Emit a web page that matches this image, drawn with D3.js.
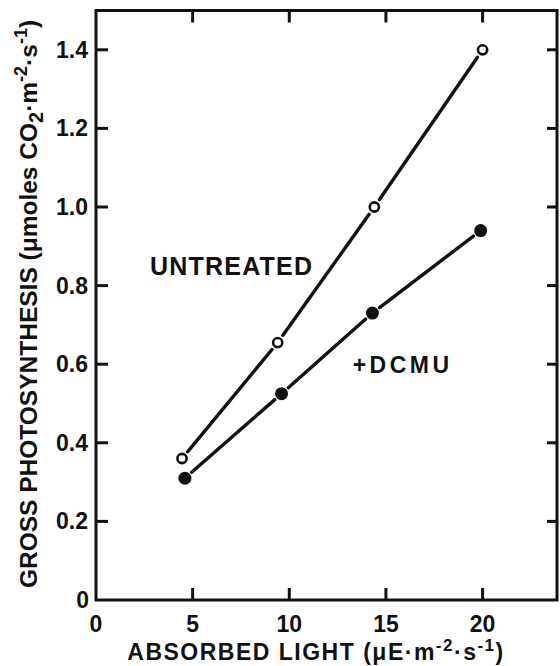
<!DOCTYPE html>
<html>
<head>
<meta charset="utf-8">
<script src="https://cdn.jsdelivr.net/npm/d3@7"></script>
<style>
  body { margin: 0; background: #fff; }
  svg text { font-family: "Liberation Sans", Arial, sans-serif; font-weight: bold; fill: #111; }
</style>
</head>
<body>
<svg id="chart" width="560" height="666"></svg>
<script>
// values
var lightUntreated = [4.45, 9.4, 14.4, 20.0];
var gpUntreated = [0.36, 0.655, 1.0, 1.40];
var lightDcmu = [4.6, 9.6, 14.3, 19.9];
var gpDcmu = [0.31, 0.525, 0.73, 0.94];

var xTicks = [0, 5, 10, 15, 20];
var yTicks = [0, 0.2, 0.4, 0.6, 0.8, 1.0, 1.2, 1.4];
var yTickLabels = ["0", "0.2", "0.4", "0.6", "0.8", "1.0", "1.2", "1.4"];

var untreated = lightUntreated.map(function(d, i) { return { x: d, y: gpUntreated[i] }; });
var dcmu = lightDcmu.map(function(d, i) { return { x: d, y: gpDcmu[i] }; });

var svg = d3.select("#chart");

var x = d3.scaleLinear().domain([0, 23.85]).range([96, 557]);
var y = d3.scaleLinear().domain([0, 1.5]).range([600, 10.5]);

// frame
svg.append("rect")
    .attr("x", x(0)).attr("y", y(1.5))
    .attr("width", x(23.85) - x(0)).attr("height", y(0) - y(1.5))
    .attr("fill", "none").attr("stroke", "#111").attr("stroke-width", 3);

var tickLen = 12;

// inward ticks, left + right
yTicks.slice(1).forEach(function(t) {
    svg.append("line")
        .attr("x1", x(0)).attr("x2", x(0) + tickLen)
        .attr("y1", y(t)).attr("y2", y(t))
        .attr("stroke", "#111").attr("stroke-width", 3);
    svg.append("line")
        .attr("x1", x(23.85)).attr("x2", x(23.85) - tickLen + 2)
        .attr("y1", y(t)).attr("y2", y(t))
        .attr("stroke", "#111").attr("stroke-width", 3);
});

// inward ticks, bottom + top
xTicks.slice(1).forEach(function(t) {
    svg.append("line")
        .attr("x1", x(t)).attr("x2", x(t))
        .attr("y1", y(0)).attr("y2", y(0) - tickLen)
        .attr("stroke", "#111").attr("stroke-width", 3);
    svg.append("line")
        .attr("x1", x(t)).attr("x2", x(t))
        .attr("y1", y(1.5)).attr("y2", y(1.5) + tickLen)
        .attr("stroke", "#111").attr("stroke-width", 3);
});

// tick labels
svg.selectAll(".ylab")
    .data(yTicks)
    .enter().append("text")
    .attr("class", "ylab")
    .attr("x", function(d) { return d === 0 ? 89 : 88; })
    .attr("y", function(d) { return y(d) + 8; })
    .attr("text-anchor", "end")
    .style("font-size", "23px")
    .text(function(d, i) { return yTickLabels[i]; });

svg.selectAll(".xlab")
    .data(xTicks)
    .enter().append("text")
    .attr("class", "xlab")
    .attr("x", function(d) { return x(d); })
    .attr("y", 632)
    .attr("text-anchor", "middle")
    .style("font-size", "23px")
    .text(function(d) { return d; });

// axis titles
var xTitle = svg.append("text")
    .attr("x", 316).attr("y", 660)
    .attr("text-anchor", "middle")
    .style("font-size", "23px")
    .style("letter-spacing", "1.5px");
xTitle.append("tspan").text("ABSORBED LIGHT (\u03bcE\u00b7m");
xTitle.append("tspan").attr("dy", -9).style("font-size", "17px").text("-2");
xTitle.append("tspan").attr("dy", 9).text("\u00b7s");
xTitle.append("tspan").attr("dy", -9).style("font-size", "17px").text("-1");
xTitle.append("tspan").attr("dy", 9).text(")");

var yTitle = svg.append("text")
    .attr("transform", "translate(37," + 304 + ") rotate(-90)")
    .attr("text-anchor", "middle")
    .style("font-size", "24.5px")
    .style("letter-spacing", "0px");
yTitle.append("tspan").text("GROSS PHOTOSYNTHESIS (\u03bcmoles CO");
yTitle.append("tspan").attr("dy", 6).style("font-size", "20px").text("2");
yTitle.append("tspan").attr("dy", -6).text("\u00b7m");
yTitle.append("tspan").attr("dy", -10).style("font-size", "18px").text("-2");
yTitle.append("tspan").attr("dy", 10).text("\u00b7s");
yTitle.append("tspan").attr("dy", -10).style("font-size", "18px").text("-1");
yTitle.append("tspan").attr("dy", 10).text(")");

// connecting segments, broken near each marker
var gap = 9;
function drawSegments(pts) {
    for (var i = 0; i < pts.length - 1; i++) {
        var x1 = x(pts[i].x), y1 = y(pts[i].y);
        var x2 = x(pts[i + 1].x), y2 = y(pts[i + 1].y);
        var len = Math.sqrt((x2 - x1) * (x2 - x1) + (y2 - y1) * (y2 - y1));
        var ux = (x2 - x1) / len, uy = (y2 - y1) / len;
        svg.append("line")
            .attr("x1", x1 + ux * gap).attr("y1", y1 + uy * gap)
            .attr("x2", x2 - ux * gap).attr("y2", y2 - uy * gap)
            .attr("stroke", "#111").attr("stroke-width", 3.4)
            .attr("stroke-linecap", "round");
    }
}
drawSegments(untreated);
drawSegments(dcmu);

svg.selectAll(".open")
    .data(untreated)
    .enter().append("circle")
    .attr("class", "open")
    .attr("cx", function(d) { return x(d.x); })
    .attr("cy", function(d) { return y(d.y); })
    .attr("r", 4.6)
    .attr("fill", "#fff").attr("stroke", "#111").attr("stroke-width", 2.6);

svg.selectAll(".filled")
    .data(dcmu)
    .enter().append("circle")
    .attr("class", "filled")
    .attr("cx", function(d) { return x(d.x); })
    .attr("cy", function(d) { return y(d.y); })
    .attr("r", 6.5)
    .attr("fill", "#111");

// series labels
svg.append("text")
    .attr("x", x(2.8)).attr("y", y(0.828))
    .style("font-size", "25px")
    .style("letter-spacing", "1.2px")
    .text("UNTREATED");

svg.append("text")
    .attr("x", x(13.28)).attr("y", y(0.578))
    .style("font-size", "23px")
    .style("letter-spacing", "3.5px")
    .text("+DCMU");
</script>
</body>
</html>
